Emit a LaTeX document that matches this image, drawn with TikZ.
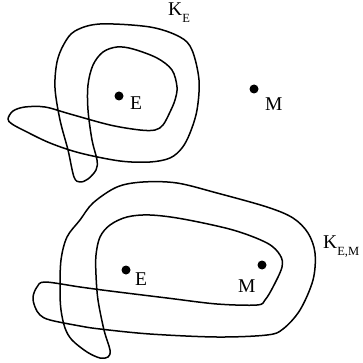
\documentclass[tikz,border=0pt]{standalone}
\usepackage{fontspec}
\setmainfont{Liberation Serif}
\usepackage{tikz}

\newcommand{\lowix}[1]{\raisebox{-7pt}{\fontsize{12.5}{12.5}\selectfont #1}}

\tikzset{
  knot/.style={line width=1.5pt, line join=round},
  pt/.style={circle, fill=black, inner sep=0pt, minimum size=9pt},
  lbl/.style={anchor=base west, inner sep=0pt, font=\fontsize{19.5}{22}\selectfont}
}

\begin{document}
\begin{tikzpicture}[x=1pt, y=-1pt]
\useasboundingbox (0,0) rectangle (363,363);
% upper knot K_E
\draw[knot] plot[smooth cycle, tension=0.55] coordinates {
 (8,119) (13,111) (25,107) (45,107) (70,114) (110,125) (140,130) (155,130)
 (163,125) (170,112) (175,100) (177,87) (172,70) (157,58) (133,49) (117,47)
 (103,52) (93,65) (88,85) (88,110) (92,140) (97,160) (96,170) (88,179)
 (80,182) (74,177) (68,150) (60,120) (55,88) (57,62) (64,44) (75,31)
 (100,24) (150,27) (180,37) (192,50) (199,80) (197,110) (190,133) (182,148)
 (170,158) (150,162) (120,161) (80,153) (50,143) (25,131) (12,124)};
% lower knot K_{E,M}
\draw[knot] plot[smooth cycle, tension=0.55] coordinates {
 (33,297) (37,287) (45,282) (80,287) (110,291) (167,298) (217,304) (257,305)
 (265,300) (273,287) (282,267) (280,255) (267,243) (233,230) (183,219) (150,215)
 (127,217) (110,225) (100,237) (96,255) (96,275) (98,300) (104,330) (110,350)
 (108,357) (100,358) (87,352) (72,340) (65,328) (61,310) (60,290) (61,260)
 (67,237) (80,220) (93,203) (117,187) (143,182) (177,183) (217,193) (267,207)
 (293,218) (308,233) (315,253) (313,280) (300,310) (283,329) (267,335) (217,337)
 (150,334) (100,329) (80,326) (50,320) (40,315) (35,307)};
% points
\node[pt] (E1) at (119,96) {};
\node[pt] (M1) at (254,89) {};
\node[pt] (E2) at (126,270) {};
\node[pt] (M2) at (262,265) {};
% labels
\node[lbl] (lE1) at (130,110) {E};
\node[lbl] (lM1) at (265,111) {M};
\node[lbl] (lE2) at (135,285) {E};
\node[lbl] (lM2) at (238,292) {M};
\node[lbl] (kE) at (168,16) {K\lowix{E}};
\node[lbl] (kEM) at (323,248) {K\lowix{E,M}};
\end{tikzpicture}
\end{document}
